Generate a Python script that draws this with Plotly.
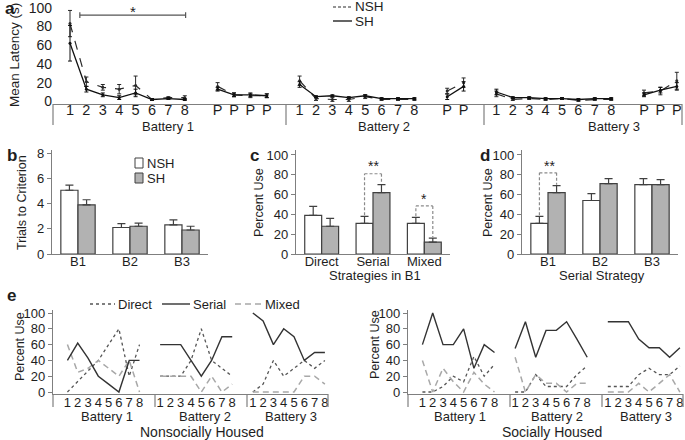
import plotly.graph_objects as go

W, H = 685, 440
def px(x): return x / W
def py(y): return 1 - y / H

FONT = "Liberation Sans, Arial, sans-serif"
TXT = "#1e1e1e"
AX = "#7f7f7f"
GRAYBAR = "#b2b2b2"
BAREDGE = "#404040"

# ---------------- Panel a data (mean latency, s) ----------------
trial_labels = [str(i) for i in range(1, 9)]
lat_nsh_b1 = [83, 21, 15, 13, 17, 2, 4, 4]
lat_nsh_b1_err = [14, 5, 3, 5, 10, 1, 1, 2]
lat_sh_b1 = [62, 13, 7, 4, 9, 2, 3, 2]
lat_sh_b1_err = [19, 3, 2, 2, 4, 1, 1, 1]
lat_nsh_p1 = [16, 7, 6, 6]
lat_nsh_p1_err = [4, 2, 2, 2]
lat_sh_p1 = [13, 7, 7, 6]
lat_sh_p1_err = [2, 2, 2, 2]
lat_nsh_b2 = [22, 3, 2, 2, 5, 2, 2, 2]
lat_nsh_b2_err = [5, 2, 2, 2, 2, 1, 1, 1]
lat_sh_b2 = [18, 5, 6, 4, 6, 3, 3, 3]
lat_sh_b2_err = [3, 1, 1, 1, 1, 1, 1, 1]
lat_nsh_p2 = [11, 20]
lat_nsh_p2_err = [3, 5]
lat_sh_p2 = [5, 16]
lat_sh_p2_err = [3, 5]
lat_nsh_b3 = [8, 2, 3, 2, 3, 1, 2, 2]
lat_nsh_b3_err = [3, 1, 1, 1, 1, 1, 1, 1]
lat_sh_b3 = [10, 4, 4, 3, 3, 2, 3, 3]
lat_sh_b3_err = [3, 1, 1, 1, 1, 1, 1, 1]
lat_nsh_p3 = [9, 11, 22]
lat_nsh_p3_err = [3, 4, 9]
lat_sh_p3 = [7, 12, 16]
lat_sh_p3_err = [2, 3, 4]
probe_label = "P"

# ---------------- Panel b data (trials to criterion) ----------------
b_cats = ["B1", "B2", "B3"]
ttc_nsh = [5.05, 2.1, 2.3]
ttc_nsh_err = [0.4, 0.3, 0.4]
ttc_sh = [3.9, 2.2, 1.9]
ttc_sh_err = [0.4, 0.25, 0.3]

# ---------------- Panel c data (strategies in B1, % use) ----------------
c_cats = ["Direct", "Serial", "Mixed"]
strat_nsh = [39, 31, 31]
strat_nsh_err = [9, 7, 6]
strat_sh = [28, 62, 12]
strat_sh_err = [8, 8, 4]

# ---------------- Panel d data (serial strategy, % use) ----------------
d_cats = ["B1", "B2", "B3"]
serial_nsh = [31, 54, 70]
serial_nsh_err = [7, 7, 6]
serial_sh = [62, 71, 70]
serial_sh_err = [7, 5, 5]

# ---------------- Panel e data (% use per trial, batteries 1-3) ----------------
e_trials = list(range(1, 9))
direct_nsh = [[0, 13, 27, 40, 60, 80, 20, 60], [20, 20, 20, 40, 80, 40, 30, 20], [0, 10, 40, 20, 30, 40, 30, 40]]
serialt_nsh = [[40, 62, 43, 20, 10, 0, 40, 40], [60, 60, 60, 40, 20, 40, 70, 70], [100, 90, 60, 80, 70, 40, 50, 50]]
mixed_nsh = [[60, 25, 30, 40, 30, 20, 40, 0], [20, 20, 20, 20, 0, 20, 0, 10], [0, 0, 0, 0, 0, 20, 20, 10]]
direct_sh = [[0, 0, 7, 20, 13, 45, 20, 35], [0, 0, 22, 7, 7, 7, 22, 33], [7, 7, 7, 22, 30, 22, 22, 33]]
serialt_sh = [[60, 100, 60, 60, 80, 30, 60, 50], [55, 89, 44, 78, 78, 89, 67, 44], [89, 89, 89, 67, 56, 56, 44, 56]]
mixed_sh = [[40, 0, 30, 13, 0, 25, 10, 0], [44, 0, 22, 11, 11, 0, 11, 11], [0, 0, 0, 11, 0, 11, 22, 0]]
battery_names = ["Battery 1", "Battery 2", "Battery 3"]

fig = go.Figure()

# ---------- Panel a traces ----------
nsh_groups = [(lat_nsh_b1, lat_nsh_b1_err), (lat_nsh_p1, lat_nsh_p1_err), (lat_nsh_b2, lat_nsh_b2_err),
              (lat_nsh_p2, lat_nsh_p2_err), (lat_nsh_b3, lat_nsh_b3_err), (lat_nsh_p3, lat_nsh_p3_err)]
sh_groups = [(lat_sh_b1, lat_sh_b1_err), (lat_sh_p1, lat_sh_p1_err), (lat_sh_b2, lat_sh_b2_err),
             (lat_sh_p2, lat_sh_p2_err), (lat_sh_b3, lat_sh_b3_err), (lat_sh_p3, lat_sh_p3_err)]
a_tickvals, a_ticktext = [], []
pos = 0
for gi, ((nv, ne), (sv, se)) in enumerate(zip(nsh_groups, sh_groups)):
    xs = list(range(pos, pos + len(nv)))
    labels = trial_labels if gi % 2 == 0 else [probe_label] * len(nv)
    a_tickvals += xs
    a_ticktext += labels[:len(nv)]
    fig.add_trace(go.Scatter(x=xs, y=nv, mode="lines+markers", xaxis="x", yaxis="y",
                             line=dict(color="#2a2a2a", width=1.2, dash="dash"),
                             marker=dict(size=3, color="#2a2a2a"),
                             error_y=dict(type="data", array=ne, color="#2a2a2a", thickness=1, width=2)))
    fig.add_trace(go.Scatter(x=xs, y=sv, mode="lines+markers", xaxis="x", yaxis="y",
                             line=dict(color="#111111", width=1.3),
                             marker=dict(size=3, color="#111111"),
                             error_y=dict(type="data", array=se, color="#111111", thickness=1, width=2)))
    pos += len(nv) + 1

# ---------- Bar panels ----------
def add_bars(cats, nv, ne, sv, se, xa, ya):
    fig.add_trace(go.Bar(x=cats, y=nv, xaxis=xa, yaxis=ya, marker=dict(color="white", line=dict(color=BAREDGE, width=1.2)),
                         error_y=dict(type="data", symmetric=False, array=ne, arrayminus=[0] * len(ne),
                                      color=BAREDGE, thickness=1.2, width=4)))
    fig.add_trace(go.Bar(x=cats, y=sv, xaxis=xa, yaxis=ya, marker=dict(color=GRAYBAR, line=dict(color=BAREDGE, width=1.2)),
                         error_y=dict(type="data", symmetric=False, array=se, arrayminus=[0] * len(se),
                                      color=BAREDGE, thickness=1.2, width=4)))

add_bars(b_cats, ttc_nsh, ttc_nsh_err, ttc_sh, ttc_sh_err, "x2", "y2")
add_bars(c_cats, strat_nsh, strat_nsh_err, strat_sh, strat_sh_err, "x3", "y3")
add_bars(d_cats, serial_nsh, serial_nsh_err, serial_sh, serial_sh_err, "x4", "y4")

# ---------- Panel e ----------
e_tickvals, e_ticktext = [], []
for b in range(3):
    e_tickvals += [b * 9 + t + 0.4 for t in e_trials]
    e_ticktext += [str(t) for t in e_trials]

def add_e(direct, serial, mixed, xa, ya):
    for b in range(3):
        xs = [b * 9 + t + 0.4 for t in e_trials]
        fig.add_trace(go.Scatter(x=xs, y=direct[b], mode="lines", xaxis=xa, yaxis=ya,
                                 line=dict(color="#555555", width=1.3, dash="dot")))
        fig.add_trace(go.Scatter(x=xs, y=mixed[b], mode="lines", xaxis=xa, yaxis=ya,
                                 line=dict(color="#a8a8a8", width=1.5, dash="6px,4px")))
        fig.add_trace(go.Scatter(x=xs, y=serial[b], mode="lines", xaxis=xa, yaxis=ya,
                                 line=dict(color="#333333", width=1.4)))

add_e(direct_nsh, serialt_nsh, mixed_nsh, "x5", "y5")
add_e(direct_sh, serialt_sh, mixed_sh, "x6", "y6")

# ---------- Layout axes ----------
tick_font = dict(family=FONT, size=13, color=TXT)
COMMON = dict(automargin=False, ticklabeloverflow="allow", showgrid=False, zeroline=False, fixedrange=True)
def xcat(domain):
    return dict(domain=domain, showline=True, linecolor=AX, linewidth=1.2, ticks="", tickfont=tick_font,
                ticklabelstandoff=-5, **COMMON)
def ybar(domain, rng, dtick):
    return dict(domain=domain, range=rng, showline=True, linecolor=AX, linewidth=1.2, ticks="outside",
                ticklen=4, tickcolor=AX, dtick=dtick, tickfont=tick_font, **COMMON)

layout = dict(
    width=W, height=H, margin=dict(l=0, r=0, t=0, b=0, autoexpand=False), paper_bgcolor="white",
    plot_bgcolor="white", showlegend=False, barmode="group", bargap=0.34, bargroupgap=0,
    font=dict(family=FONT, color=TXT),
    xaxis=dict(domain=[px(53), px(682)], range=[-(70 - 53) / 16.4, (682 - 70) / 16.4], showline=True,
               linecolor=AX, linewidth=1.2, ticks="", tickvals=a_tickvals, ticktext=a_ticktext,
               ticklabelstandoff=-8, tickfont=dict(family=FONT, size=14.5, color=TXT), **COMMON),
    yaxis=dict(domain=[py(104), py(2)], range=[-2.8, 106], showline=False, ticks="",
               tickvals=[0, 20, 40, 60, 80, 100], tickfont=dict(family=FONT, size=14, color=TXT), **COMMON),
    xaxis2=dict(xcat([px(52), px(208)]), anchor="y2"),
    yaxis2=dict(ybar([py(254), py(150)], [0, 8.24], 2), anchor="x2"),
    xaxis3=dict(xcat([px(296), px(450)]), anchor="y3"),
    yaxis3=dict(ybar([py(254), py(150)], [0, 105], 20), anchor="x3"),
    xaxis4=dict(xcat([px(522), px(678)]), anchor="y4"),
    yaxis4=dict(ybar([py(254), py(150)], [0, 105], 20), anchor="x4"),
    xaxis5=dict(domain=[px(53), px(328)], range=[0, 26.7], anchor="y5", showline=True, linecolor=AX, linewidth=1.2,
                ticks="", tickvals=e_tickvals, ticktext=e_ticktext, tickfont=tick_font, ticklabelstandoff=-4, **COMMON),
    yaxis5=dict(ybar([py(394), py(310)], [-2.5, 103.8], 20), anchor="x5"),
    xaxis6=dict(domain=[px(408), px(683)], range=[0, 26.7], anchor="y6", showline=True, linecolor=AX, linewidth=1.2,
                ticks="", tickvals=e_tickvals, ticktext=e_ticktext, tickfont=tick_font, ticklabelstandoff=-4, **COMMON),
    yaxis6=dict(ybar([py(394), py(310)], [-2.5, 103.8], 20), anchor="x6"),
)
fig.update_layout(**layout)

shapes = []
annotations = []
def pline(x0, y0, x1, y1, color=AX, width=1.2, dash=None):
    d = dict(type="line", xref="paper", yref="paper", x0=px(x0), y0=py(y0), x1=px(x1), y1=py(y1),
             line=dict(color=color, width=width))
    if dash:
        d["line"]["dash"] = dash
    shapes.append(d)
def text(x, y, s, size=13, xanchor="center", angle=0, bold=False):
    annotations.append(dict(xref="paper", yref="paper", x=px(x), y=py(y), text=("<b>%s</b>" % s) if bold else s,
                            showarrow=False, xanchor=xanchor, yanchor="middle", textangle=angle,
                            font=dict(family=FONT, size=size, color=TXT)))

# Panel a decorations
for sx in [53, 286, 484, 682]:
    pline(sx, 104, sx, 125)
shapes.append(dict(type="line", xref="x", yref="y", x0=0.6, x1=7.05, y0=92, y1=92, line=dict(color="#555", width=1.2)))
for cx in [0.6, 7.05]:
    shapes.append(dict(type="line", xref="x", yref="y", x0=cx, x1=cx, y0=89, y1=95, line=dict(color="#555", width=1.2)))
text(133, 11, "*", 15)
text(3, 8, "a", 17, "left", bold=True)
text(14, 55, "Mean Latency (s)", 13.5, angle=-90)
for lbl, cx in zip(battery_names, [168, 384, 614]):
    text(cx, 126, lbl, 13)
pline(333, 7, 352, 7, color="#2a2a2a", width=1.2, dash="3px,2px")
pline(333, 21, 352, 21, color="#111", width=1.3)
text(353, 7, "NSH", 13.5, "left")
text(353, 21, "SH", 13.5, "left")

# Panel b decorations
text(5, 155, "b", 17, "left", bold=True)
text(22, 203, "Trials to Criterion", 12.5, angle=-90)
shapes.append(dict(type="rect", xref="paper", yref="paper", x0=px(135), x1=px(143), y0=py(158), y1=py(168),
                   fillcolor="white", line=dict(color=BAREDGE, width=1)))
shapes.append(dict(type="rect", xref="paper", yref="paper", x0=px(135), x1=px(143), y0=py(173), y1=py(183),
                   fillcolor=GRAYBAR, line=dict(color=BAREDGE, width=1)))
text(145, 163, "NSH", 13, "left")
text(145, 178, "SH", 13, "left")

# Panel c decorations
text(248, 156, "c", 17, "left", bold=True)
text(259, 203, "Percent Use", 12.5, angle=-90)
text(375, 275, "Strategies in B1", 13)
off = 0.165
def bracket(xa, ya, ci, y_left, y_right, y_top):
    for (xx0, yy0, xx1, yy1) in [(ci - off, y_left, ci - off, y_top), (ci - off, y_top, ci + off, y_top),
                                 (ci + off, y_top, ci + off, y_right)]:
        shapes.append(dict(type="line", xref=xa, yref=ya, x0=xx0, y0=yy0, x1=xx1, y1=yy1,
                           line=dict(color="#8a8a8a", width=1.2, dash="3px,2px")))
bracket("x3", "y3", 1, strat_nsh[1] + strat_nsh_err[1] + 1, strat_sh[1] + strat_sh_err[1] + 1, 81)
bracket("x3", "y3", 2, strat_nsh[2] + strat_nsh_err[2] + 1, strat_sh[2] + strat_sh_err[2] + 1, 48.5)
text(373, 166, "**", 14)
text(424, 199, "*", 14)

# Panel d decorations
text(478, 155, "d", 17, "left", bold=True)
text(488, 203, "Percent Use", 12.5, angle=-90)
text(602, 275, "Serial Strategy", 13)
bracket("x4", "y4", 0, serial_nsh[0] + serial_nsh_err[0] + 1, serial_sh[0] + serial_sh_err[0] + 1, 82)
text(549, 166, "**", 14)

# Panel e decorations
text(5, 295, "e", 17, "left", bold=True)
pline(90, 304, 115, 304, color="#555", width=1.3, dash="dot")
text(116, 304, "Direct", 13, "left")
pline(162, 304, 190, 304, color="#333", width=1.4)
text(191, 304, "Serial", 13, "left")
pline(235, 304, 262, 304, color="#a8a8a8", width=1.5, dash="6px,4px")
text(263, 304, "Mixed", 13, "left")
for sx in [53, 155, 247, 328, 408, 510, 602, 683]:
    pline(sx, 394, sx, 407)
text(20, 347, "Percent Use", 12.5, angle=-90)
text(375, 345, "Percent Use", 12.5, angle=-90)
for lbl, cx in zip(battery_names, [107, 205, 291]):
    text(cx, 416, lbl, 13)
for lbl, cx in zip(battery_names, [460, 557, 646]):
    text(cx, 416, lbl, 13)
text(202, 432, "Nonsocially Housed", 14)
text(552, 432, "Socially Housed", 14)

fig.update_layout(shapes=shapes, annotations=annotations)
fig.write_html("out.html", config={"displayModeBar": False},
               post_script="document.body.style.margin='0';document.body.style.overflow='hidden';")
